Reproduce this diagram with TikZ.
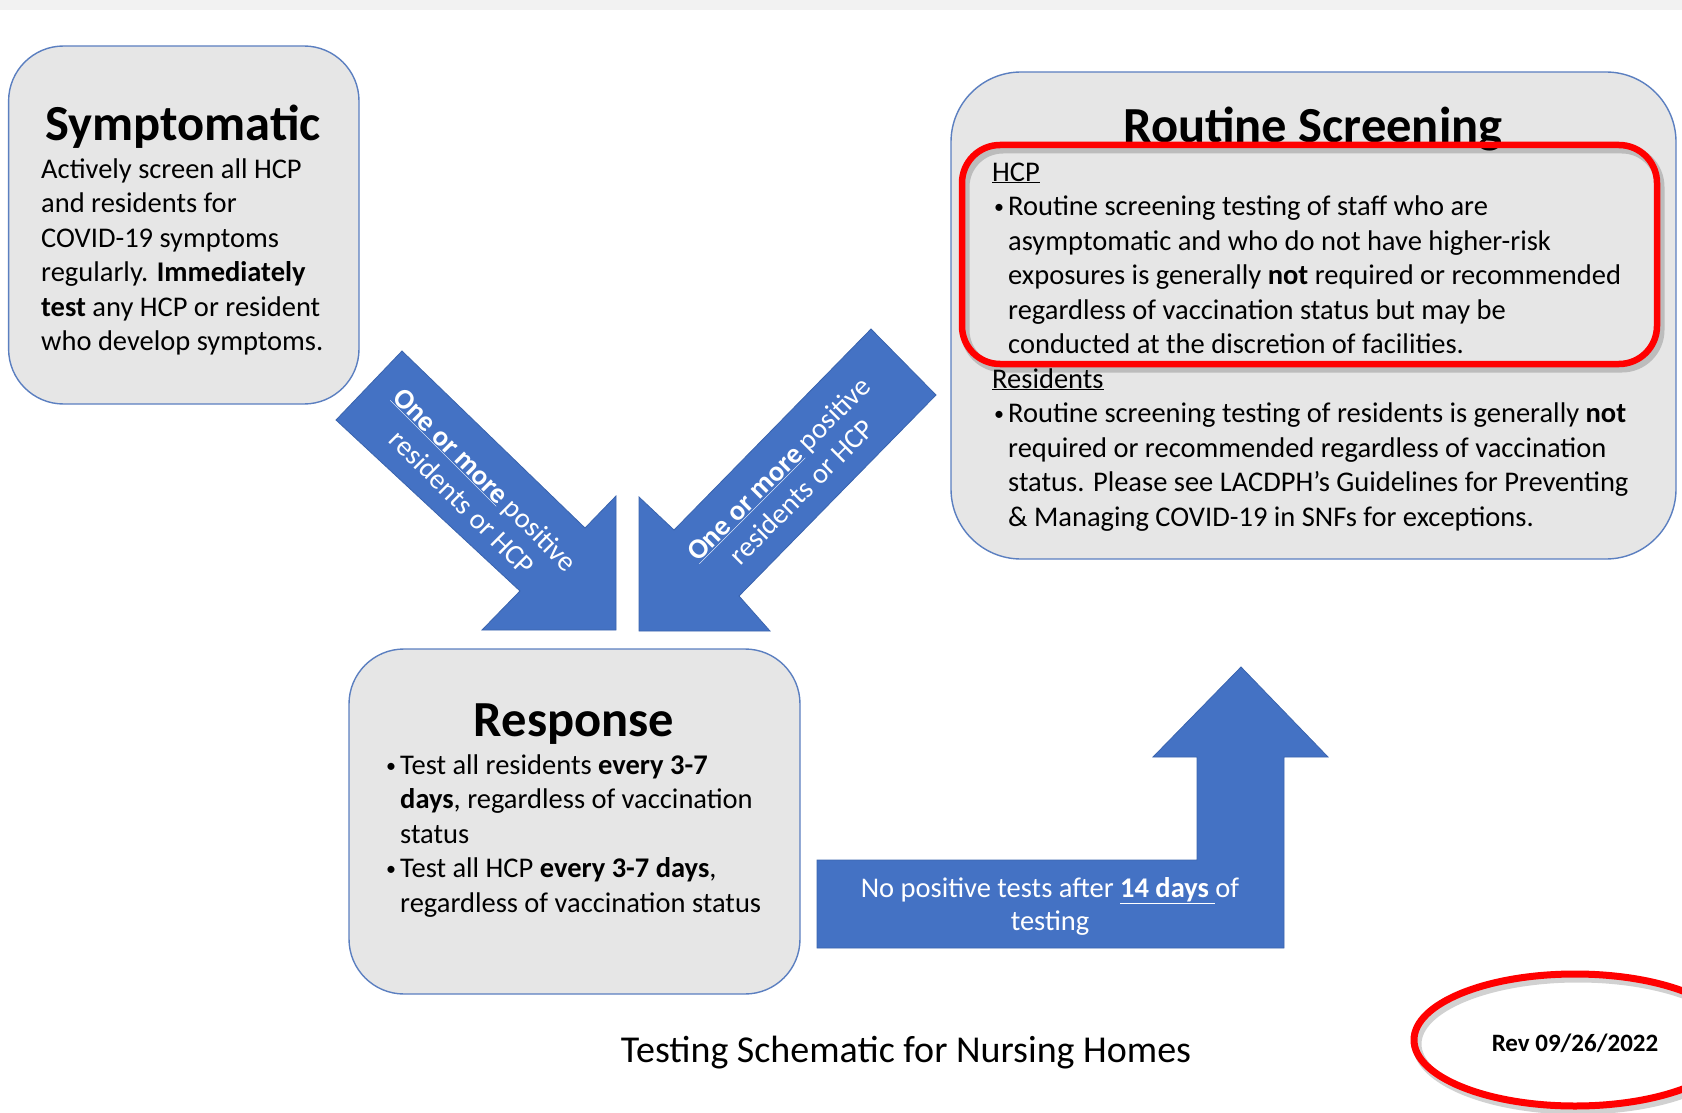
\documentclass[tikz,border=0pt]{standalone}
\usepackage{fontspec}
\setmainfont{Carlito}
\usetikzlibrary{positioning}
\definecolor{boxgray}{HTML}{E6E6E6}
\definecolor{boxedge}{HTML}{5B7FC0}
\definecolor{arrblue}{HTML}{4472C4}
\definecolor{arredge}{HTML}{3A64AE}
\definecolor{markred}{HTML}{FF0000}
\newcommand{\bitem}{\makebox[16pt][l]{\hspace{2pt}\raisebox{2pt}{\fontsize{20}{20}\selectfont\textbullet}}}
\newcommand{\bcont}{\hspace*{16pt}}

\begin{document}
\begin{tikzpicture}[x=1pt,y=-1pt,
  panel/.style={draw=boxedge, line width=1.4pt, fill=boxgray, rounded corners=55pt},
  blockarrow/.style={fill=arrblue, draw=arredge, line width=0.8pt},
  title/.style={font=\fontsize{50.5}{60}\selectfont\bfseries, inner sep=0pt, anchor=base},
  body/.style={font=\fontsize{28.5}{34.5}\selectfont, align=left, inner sep=0pt, anchor=base west},
  onarrow/.style={font=\fontsize{28.5}{32.5}\selectfont, text=white, align=center, inner sep=0pt},
  redmark/.style={draw=markred, line width=6.5pt},
  redshade/.style={draw=black, opacity=0.18, line width=9pt}]
\useasboundingbox (0,0) rectangle (1682,1113);
\fill[gray!10] (0,0) rectangle (1682,10);

% the three panels
\draw[panel] (8.6,46) rectangle (359,404);
\draw[panel, rounded corners=70pt] (951,72) rectangle (1676,559);
\draw[panel] (349,649) rectangle (800,994);

% Symptomatic (base = last line)
\node[title] (symTitle) at (183,141) {Symptomatic};
\node[body] (symText) at (41,350.5) {Actively screen all HCP\\
and residents for\\
COVID-19 symptoms\\
regularly. \textbf{Immediately}\\
\textbf{test} any HCP or resident\\
who develop symptoms.};

% Routine Screening
\node[title] (rsTitle) at (1313,143) {Routine Screening};
\node[body] (rsText) at (992,526) {\underline{HCP}\\
\bitem Routine screening testing of staff who are\\
\bcont asymptomatic and who do not have higher-risk\\
\bcont exposures is generally \textbf{not} required or recommended\\
\bcont regardless of vaccination status but may be\\
\bcont conducted at the discretion of facilities.\\
\underline{Residents}\\
\bitem Routine screening testing of residents is generally \textbf{not}\\
\bcont required or recommended regardless of vaccination\\
\bcont status. Please see LACDPH’s Guidelines for Preventing\\
\bcont \& Managing COVID-19 in SNFs for exceptions.};

% Response
\node[title] (respTitle) at (574,736) {Response};
\node[body] (respText) at (384,912) {\bitem Test all residents \textbf{every 3-7}\\
\bcont\textbf{days}, regardless of vaccination\\
\bcont status\\
\bitem Test all HCP \textbf{every 3-7 days},\\
\bcont regardless of vaccination status};

% block arrows
\draw[blockarrow] (402,351) -- (585,528) -- (616,496) -- (616,630) -- (482,630)
  -- (520,591) -- (336,420) -- cycle;
\draw[blockarrow] (871,329) -- (674,530) -- (639,497) -- (639,631) -- (770,631)
  -- (739,596) -- (936,395) -- cycle;
\draw[blockarrow] (817,860) -- (1197,860) -- (1197,757) -- (1153,757) -- (1241,667)
  -- (1328,757) -- (1284,757) -- (1284,948) -- (817,948) -- cycle;

\node[onarrow, rotate=-45] (leftLbl) at (474,491)
  {\underline{\textbf{One or more}} positive\\residents or HCP};
\node[onarrow, rotate=45] (rightLbl) at (790,480)
  {\underline{\textbf{One or more}} positive\\residents or HCP};
\node[onarrow, anchor=base] (barLbl) at (1050,930)
  {No positive tests after \underline{\textbf{14 days}\ }of\\testing};

% caption and revision mark
\node[font=\fontsize{38}{45}\selectfont, anchor=base] (caption) at (906,1062)
  {Testing Schematic for Nursing Homes};
\node[font=\fontsize{25}{30}\selectfont\bfseries, anchor=base] (rev) at (1575,1051)
  {Rev 09/26/2022};

% red highlights
\draw[redshade, rounded corners=38pt] (965,149) rectangle (1660,368);
\draw[redmark, rounded corners=38pt] (962,145) rectangle (1657,364);
\draw[redshade] (1578,1044) ellipse [x radius=161, y radius=66];
\draw[redmark, line width=7pt] (1575,1040) ellipse [x radius=161, y radius=66];
\end{tikzpicture}
\end{document}
